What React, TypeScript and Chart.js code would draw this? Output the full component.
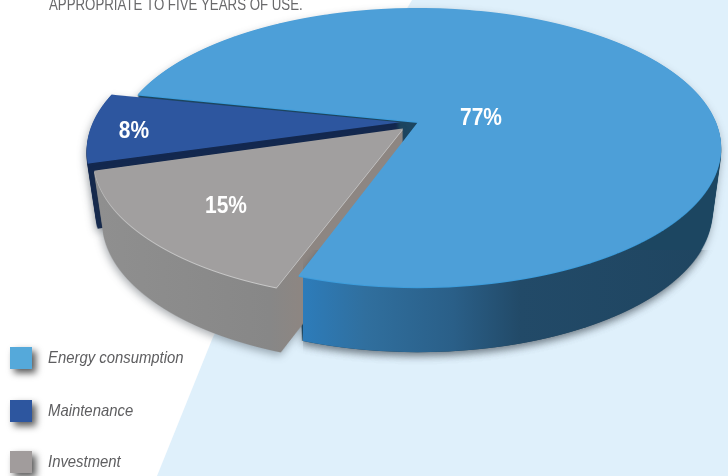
import React, { useEffect, useRef } from "react";
import { Chart, registerables } from "chart.js";

Chart.register(...registerables);

const categories = ["Energy consumption", "Maintenance", "Investment"];
const shares = [77, 8, 15];
const headerLine = "APPROPRIATE TO FIVE YEARS OF USE.";

// the order the slices take clockwise round the pie
const sliceOrder = [0, 2, 1];

const topColors = ["#4d9fd8", "#2d569f", "#a19f9f"];
const legendColors = ["#55a9da", "#2d569f", "#a19c9c"];

const APEX_X = 418;
const APEX_Y = 122;
const R = 298;
const S = 0.4527;
const P = -0.183 / R;
const WALL = 65;
const W = 728;
const H = 476;

function makeLayer() {
  const c = document.createElement("canvas");
  c.width = W;
  c.height = H;
  return c;
}

// renders one library arc through a perspective map, one pixel row at a time
function renderTop(el: any) {
  const layer = makeLayer();
  const ctx = layer.getContext("2d") as CanvasRenderingContext2D;
  const k = R / el.outerRadius;
  for (let y = 0; y < H; y++) {
    const yp = y + 0.5 - APEX_Y;
    const v = yp / (S - P * yp);
    if (Math.abs(v) > R + 60) continue;
    const w = 1 + P * v;
    const sx = k / w;
    const sy = (k * S) / (w * w);
    const srcY = el.y + v / k;
    ctx.save();
    ctx.beginPath();
    ctx.rect(0, y, W, 1);
    ctx.clip();
    ctx.setTransform(sx, 0, 0, sy, APEX_X - el.x * sx, y + 0.5 - srcY * sy);
    el.draw(ctx);
    ctx.restore();
  }
  return layer;
}

function tint(src: HTMLCanvasElement, paint: string | CanvasGradient) {
  const layer = makeLayer();
  const ctx = layer.getContext("2d") as CanvasRenderingContext2D;
  ctx.drawImage(src, 0, 0);
  ctx.globalCompositeOperation = "source-in";
  ctx.fillStyle = paint;
  ctx.fillRect(0, 0, W, H);
  return layer;
}

function extrude(src: HTMLCanvasElement, paint: string | CanvasGradient, height: number) {
  const layer = makeLayer();
  const ctx = layer.getContext("2d") as CanvasRenderingContext2D;
  for (let d = height; d >= 1; d--) {
    const f = 1 - (0.03 * d) / height;
    ctx.drawImage(src, APEX_X - APEX_X * f, d, W * f, H);
  }
  ctx.globalCompositeOperation = "source-in";
  ctx.fillStyle = paint;
  ctx.fillRect(0, 0, W, H);
  return layer;
}

function squeezedText(
  ctx: CanvasRenderingContext2D,
  text: string,
  x: number,
  y: number,
  squeeze: number,
) {
  ctx.save();
  ctx.translate(x, y);
  ctx.scale(squeeze, 1);
  ctx.fillText(text, 0, 0);
  ctx.restore();
}

const pie3d = {
  id: "pie3d",
  beforeDraw(chart: any) {
    const ctx = chart.ctx as CanvasRenderingContext2D;
    ctx.save();
    ctx.fillStyle = "#ffffff";
    ctx.fillRect(0, 0, W, H);
    ctx.fillStyle = "#dff0fb";
    ctx.beginPath();
    ctx.moveTo(412, 0);
    ctx.lineTo(213, 337);
    ctx.lineTo(157, 476);
    ctx.lineTo(728, 476);
    ctx.lineTo(728, 0);
    ctx.closePath();
    ctx.fill();
    ctx.restore();
  },
  beforeDatasetsDraw(chart: any) {
    const ctx = chart.ctx as CanvasRenderingContext2D;
    const arcs = chart.getDatasetMeta(0).data;
    const blue = renderTop(arcs[0]);
    const gray = renderTop(arcs[1]);
    const navy = renderTop(arcs[2]);

    const front = ctx.createLinearGradient(303, 0, 720, 0);
    front.addColorStop(0, "#2d7cba");
    front.addColorStop(0.15, "#306f9e");
    front.addColorStop(0.36, "#2a5f88");
    front.addColorStop(0.52, "#224a68");
    front.addColorStop(1, "#1f4560");

    const grayWall = ctx.createLinearGradient(100, 0, 300, 0);
    grayWall.addColorStop(0, "#8f8f8f");
    grayWall.addColorStop(0.85, "#878787");
    grayWall.addColorStop(1, "#8d8682");

    const shadowed = (img: HTMLCanvasElement) => {
      ctx.save();
      ctx.shadowColor = "rgba(40,50,60,0.4)";
      ctx.shadowBlur = 9;
      ctx.shadowOffsetX = -1;
      ctx.shadowOffsetY = 3;
      ctx.drawImage(img, 0, 0);
      ctx.restore();
    };

    shadowed(extrude(blue, "#1c4661", WALL));
    shadowed(extrude(navy, "#13284f", WALL));
    ctx.drawImage(navy, 0, 0);
    shadowed(extrude(gray, grayWall, WALL));
    ctx.drawImage(tint(gray, "#c9c9c9"), 0, 1);
    ctx.drawImage(gray, 0, 0);

    ctx.save();
    ctx.beginPath();
    ctx.rect(303, 250, W - 303, H - 250);
    ctx.clip();
    shadowed(extrude(blue, front, WALL));
    ctx.restore();
    ctx.drawImage(tint(blue, "#3d9ddc"), 0, 1);
    ctx.drawImage(blue, 0, 0);
    return false;
  },
  afterDraw(chart: any) {
    const ctx = chart.ctx as CanvasRenderingContext2D;
    ctx.save();
    ctx.textBaseline = "alphabetic";
    ctx.textAlign = "left";

    ctx.fillStyle = "#69696b";
    ctx.font = '17px "Liberation Sans"';
    squeezedText(ctx, headerLine, 49, 10, 0.78);

    const labelY = [358, 411, 462];
    categories.forEach((name, i) => {
      const y = labelY[i];
      ctx.save();
      ctx.shadowColor = "rgba(0,0,0,0.65)";
      ctx.shadowBlur = 7;
      ctx.shadowOffsetX = 4;
      ctx.shadowOffsetY = 4;
      ctx.fillStyle = legendColors[i];
      ctx.fillRect(10, y - 11, 22, 22);
      ctx.restore();
      ctx.fillStyle = "#5e5e60";
      ctx.font = 'italic 17px "Liberation Sans"';
      squeezedText(ctx, name, 48, y + 5, 0.875);
    });

    const marks = [
      [481, 118],
      [134, 131],
      [226, 206],
    ];
    ctx.fillStyle = "#ffffff";
    ctx.textAlign = "center";
    ctx.textBaseline = "middle";
    ctx.font = 'bold 23px "Liberation Sans"';
    shares.forEach((v, i) => {
      squeezedText(ctx, `${v}%`, marks[i][0], marks[i][1] + 1, 0.91);
    });
    ctx.restore();
  },
};

export default function App() {
  const ref = useRef<HTMLCanvasElement>(null);
  useEffect(() => {
    document.body.style.margin = "0";
    const chart = new Chart(ref.current as HTMLCanvasElement, {
      type: "doughnut",
      data: {
        labels: sliceOrder.map((i) => categories[i]),
        datasets: [
          {
            data: sliceOrder.map((i) => shares[i]),
            backgroundColor: sliceOrder.map((i) => topColors[i]),
            borderWidth: 0,
            offset: [0, 57, 50],
          },
        ],
      },
      options: {
        responsive: false,
        animation: false,
        cutout: 0,
        rotation: 282.2,
        events: [],
        layout: { padding: 0 },
        plugins: { legend: { display: false }, tooltip: { enabled: false } },
      },
      plugins: [pie3d],
    } as any);
    return () => chart.destroy();
  }, []);
  return <canvas ref={ref} width={W} height={H} style={{ display: "block" }} />;
}
